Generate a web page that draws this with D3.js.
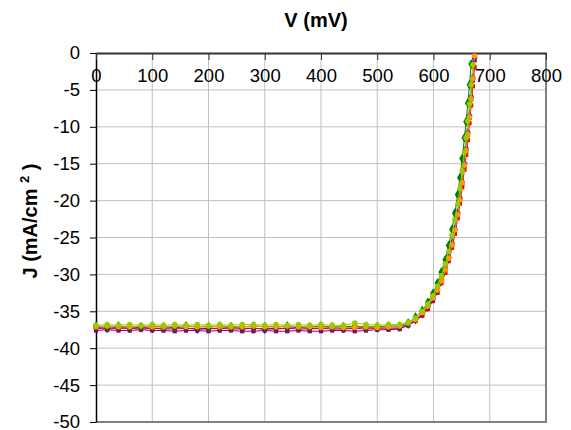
<!DOCTYPE html>
<html>
<head>
<meta charset="utf-8">
<script src="https://cdn.jsdelivr.net/npm/d3@7"></script>
<style>
  body { margin: 0; background: #fff; }
  text { font-family: "Liberation Sans", Arial, sans-serif; }
</style>
</head>
<body>
<svg id="chart" width="571" height="430"></svg>
<script>
// voltage points shared by all six J-V sweeps (mV)
const voltage = [0, 20, 40, 60, 80, 100, 120, 140, 160, 180, 200, 220, 240, 260, 280, 300, 320, 340, 360,
  380, 400, 420, 440, 460, 480, 500, 520, 540, 555, 568, 580, 590, 599, 607, 614, 621, 627, 633, 638,
  643, 647, 651, 655, 658, 661, 664, 667, 670, 673];

// current density per cell (mA/cm2), null = past Voc
const jBlue = [-37.2, -37.3, -37.2, -37.3, -37.2, -37.3, -37.3, -37.2, -37.3, -37.4, -37.3, -37.3, -37.2, -37.3,
  -37.3, -37.4, -37.3, -37.3, -37.2, -37.3, -37.3, -37.2, -37.3, -37.2, -37.2, -37.2, -37.1,
  -37.1, -36.7, -36.1, -35.3, -34.4, -33.3, -32.1, -30.8, -29.3, -27.7, -25.8, -23.9, -21.7, -19.7,
  -17.5, -15.0, -13.0, -10.8, -8.5, -6.0, -3.4, -0.6];
const jRed = [-37.3, -37.4, -37.3, -37.3, -37.4, -37.3, -37.4, -37.4, -37.3, -37.4, -37.4, -37.3, -37.4, -37.4,
  -37.3, -37.4, -37.4, -37.3, -37.4, -37.4, -37.3, -37.4, -37.4, -37.3, -37.4, -37.3, -37.3,
  -37.3, -36.9, -36.3, -35.6, -34.7, -33.6, -32.5, -31.2, -29.8, -28.2, -26.4, -24.5, -22.4, -20.4,
  -18.2, -15.8, -13.8, -11.8, -9.5, -7.1, -4.5, -1.9];
const jPurple = [-37.6, -37.5, -37.6, -37.6, -37.5, -37.6, -37.6, -37.7, -37.6, -37.6, -37.7, -37.6, -37.6, -37.7,
  -37.7, -37.6, -37.7, -37.7, -37.6, -37.7, -37.7, -37.6, -37.6, -37.7, -37.6, -37.5, -37.5,
  -37.4, -36.9, -36.2, -35.4, -34.5, -33.5, -32.3, -31.0, -29.5, -27.9, -26.0, -24.1, -22.0, -20.0,
  -17.8, -15.3, -13.3, -11.1, -8.8, -6.3, -3.7, -1.0];
const jGreen = [-37.0, -37.1, -37.0, -37.1, -37.1, -37.0, -37.1, -37.1, -37.0, -37.1, -37.1, -37.0, -37.1, -37.1,
  -37.0, -37.1, -37.1, -37.0, -37.1, -37.1, -37.0, -37.1, -37.1, -37.0, -37.1, -37.1, -37.0,
  -37.0, -36.6, -35.8, -34.9, -33.8, -32.6, -31.2, -29.7, -28.0, -26.1, -23.9, -21.7, -19.2, -16.9,
  -14.3, -11.5, -9.3, -6.8, -4.3, -1.5, null, null];
const jOrange = [-37.1, -37.0, -37.1, -37.1, -37.0, -37.1, -37.1, -37.0, -37.1, -37.1, -37.0, -37.1, -37.1, -37.1,
  -37.0, -37.1, -37.1, -37.0, -37.1, -37.1, -37.2, -37.1, -37.2, -37.2, -37.1, -37.2, -37.1,
  -37.0, -36.6, -36.1, -35.2, -34.3, -33.2, -32.1, -30.9, -29.4, -27.8, -26.0, -24.0, -21.9, -19.9,
  -17.6, -15.2, -13.2, -11.0, -8.7, -6.2, -3.5, -0.4];
const jLime = [-36.9, -36.8, -36.9, -36.8, -36.9, -36.8, -36.9, -36.8, -36.9, -36.8, -36.9, -36.8, -36.9, -36.8,
  -36.8, -36.9, -36.8, -36.9, -36.8, -36.9, -36.8, -36.9, -36.9, -36.6, -36.8, -36.9, -36.8,
  -36.8, -36.5, -35.9, -35.0, -34.0, -32.9, -31.6, -30.2, -28.6, -26.9, -24.7, -22.6, -20.5, -18.4,
  -16.0, -13.4, -11.5, -9.2, -6.9, -4.3, -1.6, null];

const xTicks = [0, 100, 200, 300, 400, 500, 600, 700, 800];
const yTicks = [0, -5, -10, -15, -20, -25, -30, -35, -40, -45, -50];

const series = [
  {values: jBlue, color: "#0000ff", shape: d3.symbolDiamond, size: 30},
  {values: jRed, color: "#ff0000", shape: d3.symbolSquare, size: 18},
  {values: jPurple, color: "#800080", shape: d3.symbolSquare, size: 18},
  {values: jGreen, color: "#008000", shape: d3.symbolDiamond, size: 30},
  {values: jOrange, color: "#ff9900", shape: d3.symbolCircle, size: 24},
  {values: jLime, color: "#99cc00", shape: d3.symbolCircle, size: 24}
];

const svg = d3.select("#chart");
const plotLeft = 96, plotRight = 546, plotTop = 53, plotBottom = 422;

const x = d3.scaleLinear().domain([0, 800]).range([plotLeft, plotRight]);
const y = d3.scaleLinear().domain([-50, 0]).range([plotBottom, plotTop]);

// plain hyphen minus like the original
const fmt = d => String(d);

// gridlines
svg.append("g")
  .selectAll("line")
  .data(xTicks.slice(1, -1))
  .join("line")
  .attr("x1", d => x(d)).attr("x2", d => x(d))
  .attr("y1", plotTop).attr("y2", plotBottom)
  .attr("stroke", "#c0c0c0");

svg.append("g")
  .selectAll("line")
  .data(yTicks.slice(1, -1))
  .join("line")
  .attr("x1", plotLeft).attr("x2", plotRight)
  .attr("y1", d => y(d)).attr("y2", d => y(d))
  .attr("stroke", "#c0c0c0");

// plot frame (right + bottom)
svg.append("path")
  .attr("d", `M${plotLeft},${plotBottom}H${plotRight}V${plotTop}`)
  .attr("fill", "none")
  .attr("stroke", "#808080")
  .attr("stroke-width", 2);

// y axis on the left
const yAxis = svg.append("g")
  .attr("transform", `translate(${plotLeft},0)`)
  .call(d3.axisLeft(y).tickValues(yTicks).tickFormat(fmt).tickSize(6).tickSizeOuter(0).tickPadding(10));
yAxis.select(".domain").attr("stroke", "#000").attr("stroke-width", 1.5);
yAxis.selectAll(".tick line").attr("stroke", "#000");
yAxis.selectAll(".tick text")
  .attr("font-size", 18.5)
  .attr("font-family", "Liberation Sans, Arial, sans-serif")
  .attr("fill", "#000");

// x axis sits at J = 0, ticks hang down, labels below
const xAxis = svg.append("g")
  .attr("transform", `translate(0,${plotTop})`)
  .call(d3.axisBottom(x).tickValues(xTicks).tickFormat(fmt).tickSize(7).tickSizeOuter(0).tickPadding(9));
xAxis.select(".domain").attr("stroke", "#333").attr("stroke-width", 2);
xAxis.selectAll(".tick line").attr("stroke", "#333");
xAxis.selectAll(".tick text")
  .attr("font-size", 18.5)
  .attr("font-family", "Liberation Sans, Arial, sans-serif")
  .attr("fill", "#000");

// curves
const line = d3.line()
  .x(d => x(d[0]))
  .y(d => y(d[1]));

series.forEach(s => {
  const pts = voltage.map((v, i) => [v, s.values[i]]).filter(d => d[1] !== null);
  const g = svg.append("g");
  g.append("path")
    .datum(pts)
    .attr("d", line)
    .attr("fill", "none")
    .attr("stroke", s.color)
    .attr("stroke-width", 1);
  g.selectAll("path.pt")
    .data(pts)
    .join("path")
    .attr("class", "pt")
    .attr("transform", d => `translate(${x(d[0])},${y(d[1])})`)
    .attr("d", d3.symbol().type(s.shape).size(s.size))
    .attr("fill", s.color);
});

// titles
svg.append("text")
  .attr("x", 316).attr("y", 27)
  .attr("text-anchor", "middle")
  .attr("font-size", 20)
  .attr("font-weight", "bold")
  .text("V (mV)");

const yTitle = svg.append("text")
  .attr("transform", "translate(37,221) rotate(-90)")
  .attr("text-anchor", "middle")
  .attr("font-size", 20)
  .attr("font-weight", "bold");
yTitle.append("tspan").text("J (mA/cm ");
yTitle.append("tspan").attr("font-size", 13).attr("dy", -8).text("2");
yTitle.append("tspan").attr("dy", 8).text(" )");
</script>
</body>
</html>
